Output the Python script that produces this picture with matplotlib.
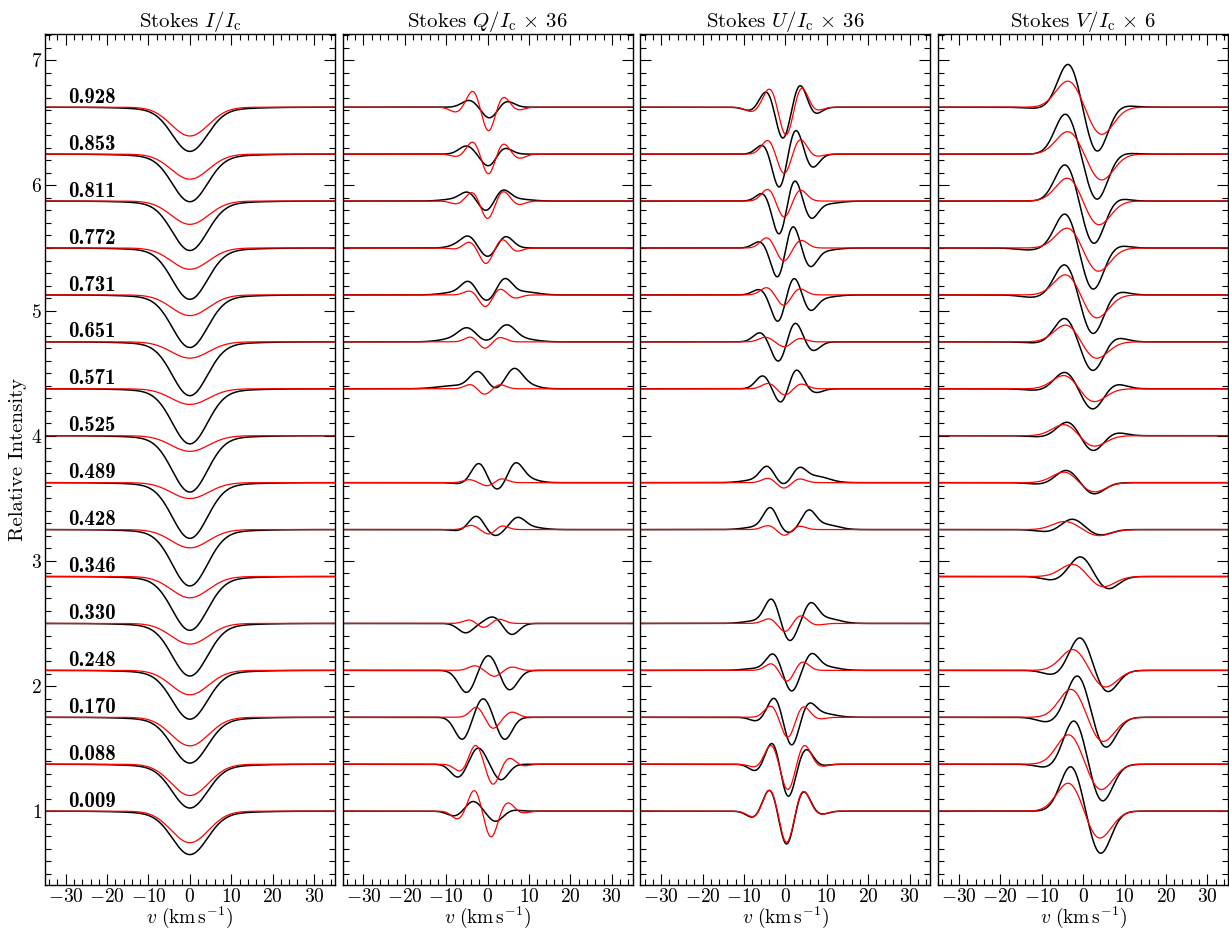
import numpy as np
import matplotlib
matplotlib.use("Agg")
import matplotlib.pyplot as plt
from matplotlib.ticker import MultipleLocator

plt.rcParams['font.family'] = 'serif'
plt.rcParams['font.serif'] = ['cmr10']
plt.rcParams['mathtext.fontset'] = 'cm'
plt.rcParams['axes.formatter.use_mathtext'] = True
plt.rcParams['font.size'] = 15

# rotation phases (bottom to top) and vertical offsets of each profile
PHASES = ["0.009", "0.088", "0.170", "0.248", "0.330", "0.346", "0.428", "0.489",
          "0.525", "0.571", "0.651", "0.731", "0.772", "0.811", "0.853", "0.928"]
OFFSETS = [1.000, 1.375, 1.750, 2.125, 2.500, 2.875, 3.250, 3.625,
           4.000, 4.375, 4.750, 5.125, 5.500, 5.875, 6.250, 6.625]

# Stokes I line depths (observed / model)
I_OBS = [0.347, 0.35, 0.366, 0.39, 0.42, 0.43, 0.45, 0.445,
         0.45, 0.44, 0.43, 0.42, 0.41, 0.395, 0.38, 0.353]
I_MOD = [0.252, 0.25, 0.228, 0.195, 0.165, 0.17, 0.146, 0.127,
         0.125, 0.125, 0.13, 0.165, 0.17, 0.186, 0.20, 0.23]

# Q, U, V lobes: (velocity, height[, width]), None = no data
Q_OBS = [
    [(-7.9, -0.04), (-3.5, 0.08), (1.9, -0.082), (6.0, 0.01)],
    [(-7.1, -0.106), (-2.3, 0.133), (3.2, -0.125)],
    [(-6.1, -0.178), (-1.1, 0.154), (4.1, -0.178)],
    [(-5.0, -0.18, 2.0), (0.2, 0.13, 2.0), (5.2, -0.16, 2.0)],
    [(-5.3, -0.075), (1.3, 0.055), (5.8, -0.09)],
    None,
    [(-7.0, -0.01), (-2.7, 0.109), (1.7, -0.053), (7.2, 0.085), (10.0, 0.02, 3.0)],
    [(-6.5, -0.01), (-2.1, 0.156), (2.3, -0.066), (6.7, 0.145), (9.5, 0.03, 2.5)],
    None,
    [(-8.0, 0.025, 4.0), (-2.3, 0.13, 2.0), (1.9, -0.02), (6.3, 0.15, 2.0), (9.5, 0.03, 2.5)],
    [(-9.0, 0.02, 3.0), (-4.9, 0.105, 2.2), (-0.2, -0.01), (4.5, 0.13, 2.2), (9.0, 0.02, 3.0)],
    [(-8.0, 0.02, 3.0), (-4.6, 0.10), (-0.2, -0.055), (4.1, 0.127), (9.0, 0.025, 3.0)],
    [(-7.5, 0.02, 2.0), (-4.6, 0.09), (0.1, -0.075), (4.3, 0.095)],
    [(-8.0, 0.015, 3.0), (-4.8, 0.066), (-0.3, -0.085), (3.6, 0.088), (7.5, 0.015, 3.0)],
    [(-5.1, 0.066), (0.3, -0.1), (3.9, 0.055)],
    [(-4.4, 0.056), (0.5, -0.09), (4.5, 0.05)],
]
Q_MOD = [
    [(-7.1, -0.066), (-3.2, 0.172), (0.8, -0.212), (4.8, 0.072), (8.3, -0.016)],
    [(-6.5, -0.06), (-2.9, 0.157), (1.3, -0.164), (5.2, 0.053), (8.5, -0.015)],
    [(-2.7, 0.082), (1.3, -0.09), (5.9, 0.042)],
    [(-3.1, 0.037), (1.6, -0.048), (5.9, 0.027)],
    [(-4.3, 0.03), (-1.0, -0.035), (2.7, 0.035)],
    None,
    [(-4.0, 0.034), (0.5, -0.04), (3.3, 0.034)],
    [(-4.4, 0.024), (0.0, -0.027), (3.3, 0.032)],
    None,
    [(-4.0, 0.037), (-0.8, -0.048), (2.9, 0.034)],
    [(-4.0, 0.042), (-0.7, -0.056), (2.9, 0.037)],
    [(-4.2, 0.034), (-0.5, -0.098), (2.9, 0.053), (6.6, -0.027)],
    [(-7.5, -0.01), (-4.4, 0.05), (-0.4, -0.127), (3.6, 0.072), (6.8, -0.03)],
    [(-7.4, -0.024), (-3.7, 0.074), (0.0, -0.146), (3.7, 0.082), (7.5, -0.03)],
    [(-7.4, -0.02), (-3.5, 0.103), (0.2, -0.167), (3.7, 0.09), (7.6, -0.035)],
    [(-7.6, -0.04), (-3.5, 0.135), (0.2, -0.2), (3.7, 0.09), (7.3, -0.024)],
]
U_OBS = [
    [(-7.6, -0.056), (-3.7, 0.186), (0.3, -0.286), (4.2, 0.172), (8.5, -0.027)],
    [(-7.0, -0.058), (-3.0, 0.194), (0.6, -0.28), (4.9, 0.127), (8.5, -0.013)],
    [(-6.8, -0.032), (-2.6, 0.164), (1.5, -0.236), (5.6, 0.106), (9.0, 0.03, 3.0)],
    [(-7.0, 0.015, 3.0), (-2.9, 0.13), (1.5, -0.172), (6.3, 0.12), (9.5, 0.03, 3.0)],
    [(-7.0, 0.02, 3.0), (-3.3, 0.19), (1.0, -0.146), (6.1, 0.15), (10.0, 0.04, 3.0)],
    None,
    [(-7.0, 0.02, 3.0), (-3.6, 0.167), (0.4, -0.032), (5.6, 0.14), (9.5, 0.04, 3.0)],
    [(-7.5, 0.02, 3.0), (-4.4, 0.12), (-0.3, -0.027), (3.3, 0.105), (7.5, 0.05, 3.0)],
    None,
    [(-5.4, 0.106), (-0.9, -0.127), (2.5, 0.164), (7.3, -0.032)],
    [(-6.0, 0.077), (-1.6, -0.167), (2.3, 0.162), (6.6, -0.074)],
    [(-6.1, 0.048), (-1.7, -0.225), (2.0, 0.16), (5.9, -0.12), (9.0, -0.02, 3.0)],
    [(-6.0, 0.056), (-1.7, -0.26), (1.6, 0.21), (5.9, -0.143), (9.0, -0.02, 3.0)],
    [(-5.2, 0.074), (-1.4, -0.29), (2.1, 0.2), (6.1, -0.138), (10.0, -0.02, 3.0)],
    [(-5.2, 0.085), (-1.4, -0.286), (2.4, 0.217), (6.4, -0.114)],
    [(-8.4, -0.03), (-4.4, 0.14), (-0.6, -0.268), (3.5, 0.194), (6.9, -0.064)],
]
U_MOD = [
    [(-7.6, -0.05), (-3.7, 0.18), (0.3, -0.265), (4.2, 0.17), (8.5, -0.027)],
    [(-7.0, -0.027), (-3.4, 0.16), (0.6, -0.217), (4.5, 0.16), (8.5, -0.02)],
    [(-3.4, 0.095), (0.6, -0.17), (4.2, 0.095), (8.0, -0.015)],
    [(-3.2, 0.058), (0.4, -0.095), (4.0, 0.072)],
    [(-3.8, 0.04), (0.0, -0.072), (3.5, 0.066), (7.5, -0.013)],
    None,
    [(-4.0, 0.034), (-0.2, -0.05), (3.2, 0.03)],
    [(-4.0, 0.037), (-0.4, -0.048), (3.3, 0.032)],
    None,
    [(-4.0, 0.045), (-0.1, -0.053), (3.7, 0.04)],
    [(-4.8, 0.037), (-0.1, -0.042), (3.3, 0.03)],
    [(-4.4, 0.061), (-0.4, -0.088), (3.3, 0.053)],
    [(-4.4, 0.085), (-0.4, -0.109), (3.7, 0.064)],
    [(-4.1, 0.1), (-0.3, -0.138), (3.5, 0.093)],
    [(-4.1, 0.117), (-0.3, -0.167), (3.5, 0.125), (7.3, -0.02)],
    [(-8.0, -0.037), (-3.7, 0.156), (0.2, -0.241), (3.8, 0.17), (7.3, -0.03)],
]
V_OBS = [
    [(-2.9, 0.363), (4.1, -0.345)],
    [(-8.4, -0.03), (-2.1, 0.358), (4.5, -0.305)],
    [(-8.4, -0.04), (-1.3, 0.34), (5.3, -0.25)],
    [(-6.8, -0.04), (-0.7, 0.27), (5.7, -0.18)],
    None,
    [(-7.2, -0.03), (-0.6, 0.162), (5.9, -0.103)],
    [(-8.0, -0.02, 3.0), (-2.7, 0.088), (4.1, -0.045)],
    [(-10.0, -0.013, 3.0), (-4.0, 0.103), (2.5, -0.093)],
    [(-10.0, -0.01, 3.0), (-3.6, 0.117), (2.3, -0.13), (7.5, 0.03)],
    [(-11.0, -0.013, 3.0), (-4.3, 0.138), (2.3, -0.172), (7.5, 0.045)],
    [(-11.0, -0.01, 3.0), (-4.3, 0.196), (2.3, -0.241), (7.5, 0.042)],
    [(-12.0, -0.02, 3.0), (-4.3, 0.252), (2.3, -0.32), (8.0, 0.032)],
    [(-13.0, -0.016, 3.0), (-4.2, 0.284), (2.3, -0.342), (8.0, 0.024)],
    [(-4.2, 0.3), (2.5, -0.35), (8.0, 0.025)],
    [(-4.2, 0.324), (3.3, -0.366), (9.0, 0.01, 3.0)],
    [(-11.0, -0.01, 3.0), (-3.5, 0.353), (3.3, -0.363), (9.0, 0.015, 3.0)],
]
V_MOD = [
    [(-3.3, 0.236), (3.7, -0.228)],
    [(-3.3, 0.244), (4.1, -0.212)],
    [(-2.7, 0.233), (4.5, -0.204)],
    [(-2.3, 0.172), (5.1, -0.14)],
    None,
    [(-2.3, 0.103), (4.5, -0.088)],
    [(-4.3, 0.066), (3.7, -0.05)],
    [(-4.3, 0.09), (2.3, -0.08)],
    [(-4.3, 0.095), (2.3, -0.09)],
    [(-4.3, 0.114), (2.3, -0.111)],
    [(-3.9, 0.143), (2.9, -0.14)],
    [(-3.9, 0.172), (3.0, -0.194)],
    [(-3.5, 0.17), (3.4, -0.196)],
    [(-3.5, 0.194), (3.5, -0.2)],
    [(-3.5, 0.186), (4.3, -0.212)],
    [(-3.5, 0.215), (4.3, -0.223)],
]

TITLES = [r"Stokes $I/I_{\rm c}$", r"Stokes $Q/I_{\rm c}\,\times\,36$",
          r"Stokes $U/I_{\rm c}\,\times\,36$", r"Stokes $V/I_{\rm c}\,\times\,6$"]

vel = np.linspace(-35, 35, 1401)


def lobes_to_profile(lobes, width):
    prof = np.zeros_like(vel)
    for lobe in lobes:
        s = lobe[2] if len(lobe) > 2 else width
        prof += lobe[1] * np.exp(-0.5 * ((vel - lobe[0]) / s) ** 2)
    return prof


fig = plt.figure(figsize=(12.29, 9.31), dpi=100)
gs = fig.add_gridspec(1, 4, left=45 / 1229, right=1228 / 1229, bottom=1 - 885 / 931,
                      top=1 - 34 / 931, wspace=0.0276)
axes = [fig.add_subplot(gs[0, i]) for i in range(4)]

for i, off in enumerate(OFFSETS):
    # Stokes I
    obs = off - (I_OBS[i] - 0.025) * np.exp(-0.5 * (vel / 4.2) ** 2) \
        - 0.025 * np.exp(-0.5 * (vel / 10.0) ** 2)
    mod = off - I_MOD[i] * np.exp(-0.5 * (vel / 4.5) ** 2)
    axes[0].plot(vel, obs, color='black', lw=1.1)
    axes[0].plot(vel, mod, color='red', lw=0.9)
    axes[0].text(-29.5, off + 0.035, PHASES[i], fontsize=15, family='cmb10',
                 ha='left', va='baseline')
    # Q, U, V
    for ax, o_list, m_list, wo, wm in [(axes[1], Q_OBS, Q_MOD, 1.8, 1.5),
                                       (axes[2], U_OBS, U_MOD, 1.7, 1.6),
                                       (axes[3], V_OBS, V_MOD, 2.6, 3.0)]:
        if o_list[i] is None:
            continue
        ax.plot(vel, off + lobes_to_profile(o_list[i], wo), color='black', lw=1.1)
        ax.plot(vel, off + lobes_to_profile(m_list[i], wm), color='red', lw=0.9)

for j, ax in enumerate(axes):
    ax.set_xlim(-35, 35)
    ax.set_ylim(0.41, 7.21)
    ax.xaxis.set_major_locator(MultipleLocator(10))
    ax.xaxis.set_minor_locator(MultipleLocator(2))
    ax.yaxis.set_major_locator(MultipleLocator(1))
    ax.yaxis.set_minor_locator(MultipleLocator(0.1))
    ax.tick_params(which='both', direction='in', top=True, right=True, width=0.8)
    ax.tick_params(which='major', length=8, labelsize=14, pad=2)
    ax.tick_params(which='minor', length=4)
    for sp in ax.spines.values():
        sp.set_linewidth(1.0)
    ax.set_title(TITLES[j], fontsize=15, pad=4)
    ax.set_xlabel(r"$v\ (\mathrm{km\,s^{-1}})$", fontsize=14, labelpad=-1)
    if j > 0:
        ax.set_yticklabels([])

axes[0].set_ylabel("Relative Intensity", fontsize=15, labelpad=3)

fig.savefig("out.png", dpi=100)
